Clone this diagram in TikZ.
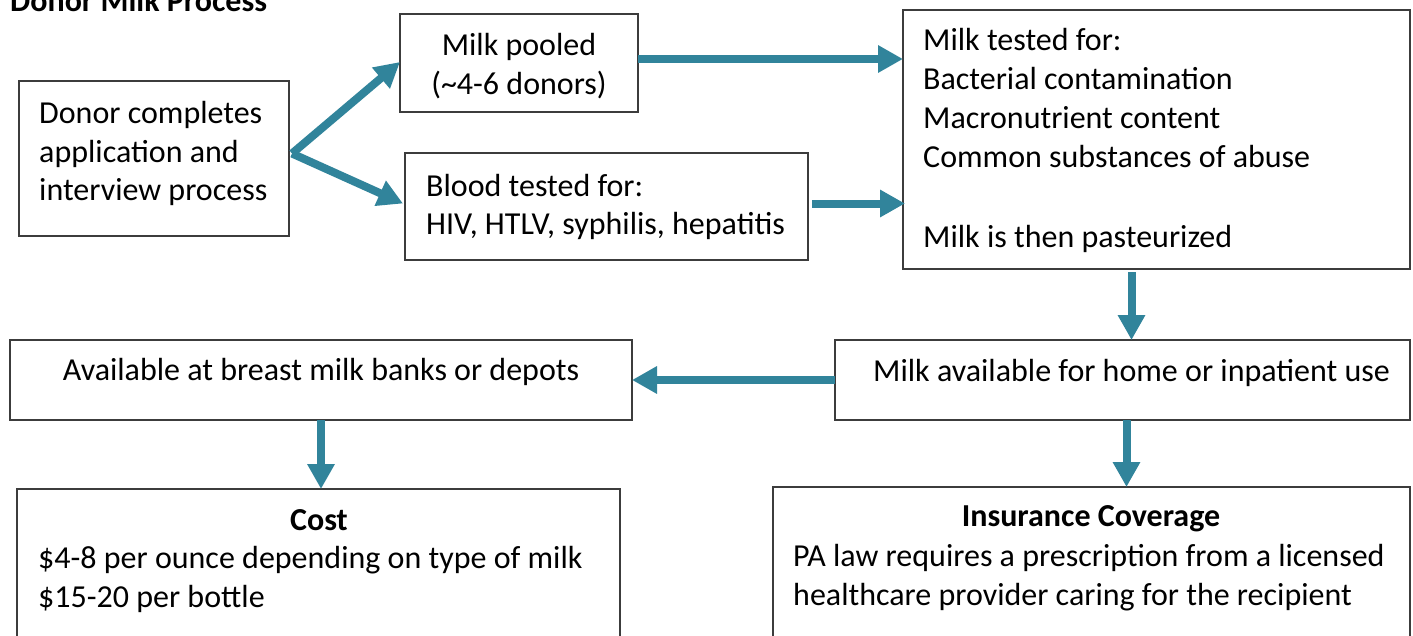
\documentclass[tikz,border=0pt]{standalone}
\usepackage{fontspec}
\setmainfont{Carlito}
\usetikzlibrary{arrows.meta}
\definecolor{tealarrow}{RGB}{49,132,155}
\definecolor{boxline}{RGB}{60,60,60}
\begin{document}
\begin{tikzpicture}[x=1pt,y=-1pt,
  box/.style={draw=boxline, line width=1.3pt, anchor=north west, inner sep=0pt, outer sep=0pt},
  txt/.style={anchor=base west, inner sep=0pt, font=\fontsize{32}{39}\selectfont},
  ctxt/.style={anchor=base, inner sep=0pt, font=\fontsize{32}{39}\selectfont},
  btxt/.style={anchor=base, inner sep=0pt, font=\bfseries\fontsize{32}{39}\selectfont},
  arr/.style={draw=tealarrow, line width=8pt, -{Triangle[length=25pt,width=26pt]}}]
\fill[white] (0,0) rectangle (1413,635);
\useasboundingbox (0,0) rectangle (1413,635);

% title
\node[anchor=base west, inner sep=0pt, font=\bfseries\fontsize{32}{39}\selectfont] (title) at (10,11) {Donor Milk Process};

% boxes
\node[box, minimum width=270pt, minimum height=155pt] (donor) at (19,81) {};
\node[box, minimum width=238pt, minimum height=98pt] (pooled) at (400,14) {};
\node[box, minimum width=403pt, minimum height=107pt] (blood) at (405,153) {};
\node[box, minimum width=507pt, minimum height=259pt] (tested) at (903,10) {};
\node[box, minimum width=575pt, minimum height=80pt] (home) at (835,340) {};
\node[box, minimum width=622pt, minimum height=80pt] (banks) at (10,340) {};
\node[box, minimum width=603pt, minimum height=200pt] (cost) at (17,489) {};
\node[box, minimum width=637pt, minimum height=200pt] (ins) at (773,487) {};

% texts
\node[txt] (donor1) at (39,123) {Donor completes};
\node[txt] (donor2) at (39,162) {application and};
\node[txt] (donor3) at (39,200) {interview process};

\node[ctxt] (pooled1) at (519,55) {Milk pooled};
\node[ctxt] (pooled2) at (519,94) {(\textasciitilde4-6 donors)};

\node[txt] (blood1) at (426,196) {Blood tested for:};
\node[txt] (blood2) at (426,234) {HIV, HTLV, syphilis, hepatitis};

\node[txt] (tested1) at (923,50) {Milk tested for:};
\node[txt] (tested2) at (923,89) {Bacterial contamination};
\node[txt] (tested3) at (923,128) {Macronutrient content};
\node[txt] (tested4) at (923,167) {Common substances of abuse};
\node[txt] (tested5) at (923,247) {Milk is then pasteurized};

\node[txt] (home1) at (873,381) {Milk available for home or inpatient use};
\node[ctxt] (banks1) at (321,380) {Available at breast milk banks or depots};

\node[btxt] (cost1) at (319,530) {Cost};
\node[txt] (cost2) at (38,568) {\$4-8 per ounce depending on type of milk};
\node[txt] (cost3) at (38,607) {\$15-20 per bottle};

\node[btxt] (ins1) at (1091,526) {Insurance Coverage};
\node[txt] (ins2) at (793,566) {PA law requires a prescription from a licensed};
\node[txt] (ins3) at (793,605) {healthcare provider caring for the recipient};

% arrows (yshift>0 moves up on the page)
\draw[arr] ([xshift=3pt,yshift=5pt]donor.east) -- ([yshift=1pt]pooled.west);
\draw[arr] ([xshift=3pt,yshift=5pt]donor.east) -- ([xshift=-2pt,yshift=3pt]blood.west);
\draw[arr] ([yshift=4pt]pooled.east) -- ([yshift=4pt]pooled.east -| tested.west);
\draw[arr] ([xshift=4pt,yshift=3pt]blood.east) -- ([xshift=2pt,yshift=3pt]blood.east -| tested.west);
\draw[arr] ([xshift=-25pt,yshift=-3pt]tested.south) -- ([xshift=-25pt]tested.south |- home.north);
\draw[arr] (home.west) -- (home.west -| banks.east);
\draw[arr] (banks.south) -- (banks.south |- cost.north);
\draw[arr] ([xshift=4pt]home.south) -- ([xshift=4pt]home.south |- ins.north);
\end{tikzpicture}
\end{document}
